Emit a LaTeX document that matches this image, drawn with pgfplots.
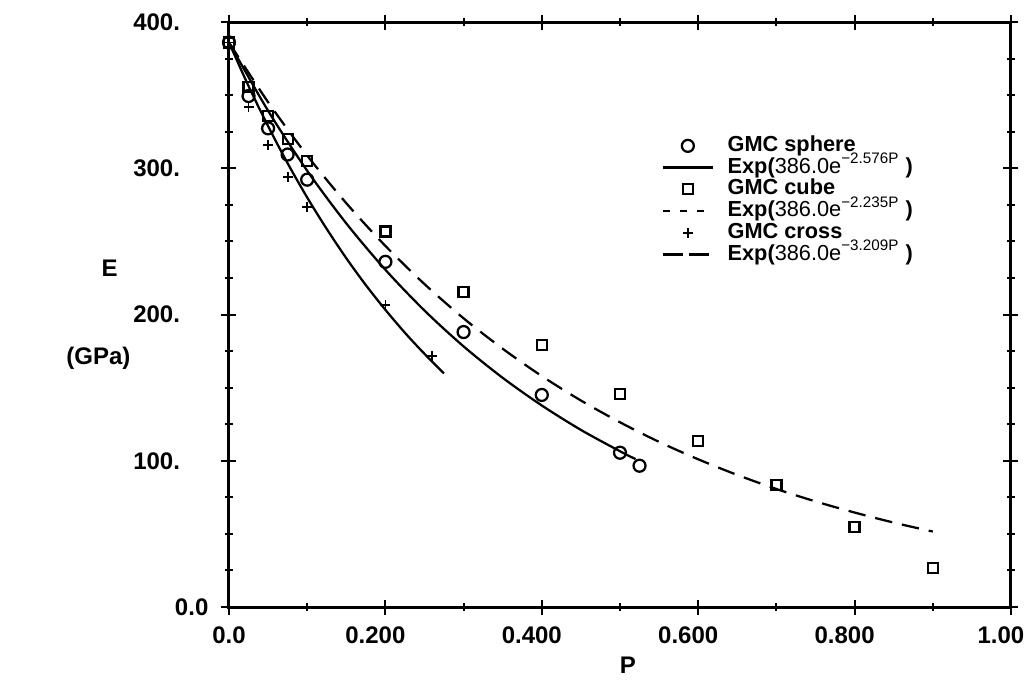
\documentclass[border=0pt]{standalone}
\usepackage{fontspec}
\setmainfont{Liberation Sans}
\usepackage{pgfplots}
\pgfplotsset{compat=1.18}
\begin{document}
\begin{tikzpicture}
\useasboundingbox (-91.6pt,-36.8pt) rectangle (319.2pt,242.8pt);
\begin{axis}[
  at={(0pt,0pt)}, anchor=south west,
  scale only axis, width=312.8pt, height=234pt,
  xmin=0, xmax=1, ymin=0, ymax=400,
  line width=1.2pt,
  xtick={0,0.2,0.4,0.6,0.8,1.0},
  xticklabels={\hphantom{0.}0.0,0.200,0.400,0.600,0.800,1.00},
  minor xtick={0.1,0.3,0.5,0.7,0.9},
  ytick={0,100,200,300,400},
  yticklabels={\makebox[2pt][l]{0.0},100.,200.,300.,400.},
  minor ytick={25,50,75,125,150,175,225,250,275,325,350,375},
  tick align=center,
  major tick length=6pt, minor tick length=3pt,
  every tick/.style={black, line width=0.8pt},
  font=\fontsize{9.6}{11}\selectfont\bfseries,
  xticklabel style={anchor=center, yshift=-8.2pt, xshift=-4pt},
  yticklabel style={anchor=east, inner sep=0pt, xshift=-16pt},
  xlabel={P},
  xlabel style={at={(axis description cs:0.51,0)}, anchor=center, yshift=-23.2pt},
  ylabel={\hspace*{9pt}E\\[24pt](GPa)},
  ylabel style={at={(axis description cs:-0.167,0.5)}, rotate=-90, anchor=center, align=center},
  legend style={draw=none, fill=none, at={(0.542,0.818)}, anchor=north west,
    font=\fontsize{8.7}{10}\selectfont\bfseries,
    row sep=0pt, nodes={inner ysep=0.3pt, text height=6.3pt, text depth=1.8pt},
    /tikz/every odd column/.append style={column sep=3.5pt}},
  legend cell align=left,
  legend image code/.code={\draw[mark repeat=2,mark phase=2,#1] plot coordinates {(0cm,0cm) (0.35cm,0cm) (0.7cm,0cm)};},
]
% GMC sphere data
\addplot[only marks, mark=o, mark size=2.4pt, mark options={line width=0.9pt}] coordinates {
 (0,386) (0.025,349.4) (0.05,327.3) (0.075,309.4) (0.1,292.2)
 (0.2,236) (0.3,188) (0.4,145) (0.5,105.5) (0.525,96.6)};
\addlegendentry{GMC sphere}
\addplot[line width=0.9pt, smooth] coordinates {
 (0,386) (0.05,339.3) (0.1,298.3) (0.15,262.3) (0.2,230.6) (0.25,202.7)
 (0.3,178.2) (0.35,156.7) (0.4,137.8) (0.45,121.1) (0.5,106.5) (0.52,101.1)};
\addlegendentry{Exp(\mdseries 386.0e\textsuperscript{−2.576P} \bfseries)}
% GMC cube data
\addplot[only marks, mark=square, mark size=2pt, mark options={line width=0.9pt}] coordinates {
 (0,386) (0.025,355.8) (0.05,335.7) (0.075,319.8) (0.1,305)
 (0.2,256.7) (0.3,215.6) (0.4,179) (0.5,145.4) (0.6,113.6)
 (0.7,83.4) (0.8,54.5) (0.9,26.5)};
\addlegendentry{GMC cube}
\addplot[line width=0.9pt, smooth, dash pattern=on 7pt off 4pt,
  legend image code/.code={\draw[line width=0.9pt, dash pattern=on 2.8pt off 4pt] (0cm,0cm) -- (0.7cm,0cm);}] coordinates {
 (0,386) (0.05,345.2) (0.1,308.7) (0.15,276.1) (0.2,246.9) (0.25,220.8)
 (0.3,197.4) (0.35,176.6) (0.4,157.9) (0.45,141.2) (0.5,126.3) (0.55,112.9)
 (0.6,101.0) (0.65,90.3) (0.7,80.7) (0.75,72.2) (0.8,64.6) (0.85,57.7) (0.9,51.6)};
\addlegendentry{Exp(\mdseries 386.0e\textsuperscript{−2.235P} \bfseries)}
% GMC cross data
\addplot[only marks, mark=+, mark size=2pt, mark options={line width=0.7pt}] coordinates {
 (0,386) (0.025,342) (0.05,316) (0.075,294) (0.1,273.7) (0.2,206.5) (0.26,171.6)};
\addlegendentry{GMC cross}
\addplot[line width=0.9pt, smooth,
  legend image code/.code={\draw[line width=0.9pt, dash pattern=on 8pt off 2.5pt] (0cm,0cm) -- (0.7cm,0cm);}] coordinates {
 (0,386) (0.025,356.2) (0.05,328.8) (0.075,303.4) (0.1,280.0) (0.125,258.5)
 (0.15,238.5) (0.175,220.1) (0.2,203.2) (0.225,187.5) (0.25,173.1) (0.275,159.7)};
\addlegendentry{Exp(\mdseries 386.0e\textsuperscript{−3.209P} \bfseries)}
\end{axis}
\end{tikzpicture}
\end{document}
